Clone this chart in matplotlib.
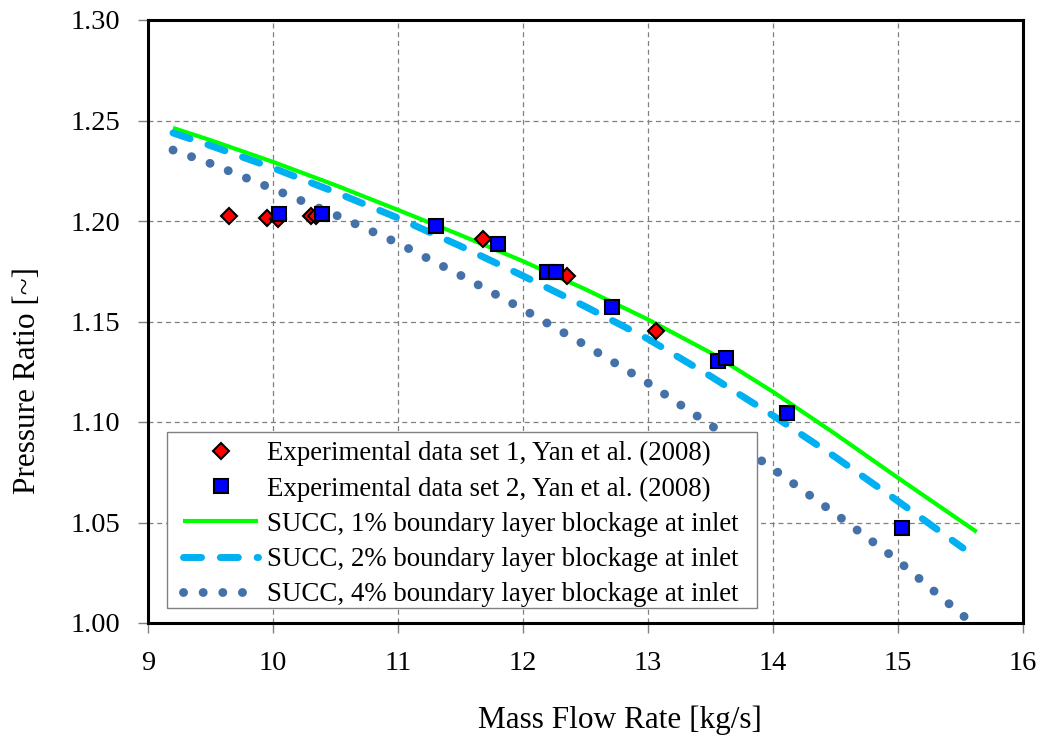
import matplotlib
matplotlib.use("Agg")
import matplotlib.pyplot as plt
from matplotlib.patches import Rectangle

# Experimental data
set1_x = [9.65, 9.95, 10.04, 10.30, 10.34, 11.68, 12.35, 13.06]
set1_y = [1.2025, 1.2015, 1.2010, 1.2025, 1.2025, 1.1912, 1.1726, 1.1453]
set2_x = [10.05, 10.39, 11.30, 11.80, 12.19, 12.26, 12.71, 13.56, 13.62, 14.11, 15.03]
set2_y = [1.2035, 1.2035, 1.1975, 1.1886, 1.1746, 1.1746, 1.1572, 1.1303, 1.1318, 1.1045, 1.0473]

# SUCC predictions
succ1_x = [9.2, 9.5, 10.0, 10.5, 11.0, 11.5, 12.0, 12.5, 13.0, 13.5, 14.0, 14.5, 15.0, 15.63]
succ1_y = [1.2463, 1.2402, 1.2294, 1.2178, 1.2055, 1.1930, 1.1800, 1.1660, 1.1510,
           1.1345, 1.1150, 1.0940, 1.0722, 1.0453]
succ2_x = [9.2, 9.5, 10.0, 10.5, 11.0, 11.5, 12.0, 12.5, 13.0, 13.5, 14.0, 14.5, 15.0, 15.52]
succ2_y = [1.2438, 1.2375, 1.2264, 1.2143, 1.2015, 1.1875, 1.1727, 1.1574, 1.1413,
           1.1228, 1.1032, 1.0825, 1.0606, 1.0373]
succ4_x = [9.2, 9.5, 10.0, 10.5, 11.0, 11.5, 12.0, 12.5, 13.0, 13.5, 14.0, 14.5, 15.0, 15.6]
succ4_y = [1.2353, 1.2286, 1.2160, 1.2030, 1.1890, 1.1730, 1.1561, 1.1382, 1.1194,
           1.0985, 1.0767, 1.0543, 1.0310, 0.9995]

labels = ["Experimental data set 1, Yan et al. (2008)",
          "Experimental data set 2, Yan et al. (2008)",
          "SUCC, 1% boundary layer blockage at inlet",
          "SUCC, 2% boundary layer blockage at inlet",
          "SUCC, 4% boundary layer blockage at inlet"]
xticks = [9, 10, 11, 12, 13, 14, 15, 16]
yticks = [1.00, 1.05, 1.10, 1.15, 1.20, 1.25, 1.30]

plt.rcParams['font.family'] = ['Liberation Serif', 'DejaVu Serif']

fig = plt.figure(figsize=(10.49, 7.43), dpi=100)
ax = fig.add_axes([148/1049, 1-623/743, (1023-148)/1049, (623-20)/743])

l1, = ax.plot(succ1_x, succ1_y, color='#00ff00', lw=3.0, solid_capstyle='butt', zorder=3)
l2, = ax.plot(succ2_x, succ2_y, color='#00b0f0', lw=5.0, linestyle=(0, (2.6, 2.7)),
              dash_capstyle='round', zorder=3)
l4, = ax.plot(succ4_x, succ4_y, color='#4472a8', lw=6.4, linestyle=(0, (0.01, 2.2)),
              dash_capstyle='round', zorder=3)
s1, = ax.plot(set1_x, set1_y, linestyle='none', marker='D', markersize=8,
              markerfacecolor='#ff0000', markeredgecolor='black', markeredgewidth=1.5, zorder=4)
s2, = ax.plot(set2_x, set2_y, linestyle='none', marker='s', markersize=10.5,
              markerfacecolor='#0000ff', markeredgecolor='black', markeredgewidth=1.5, zorder=4)

ax.set_xlim(9, 16)
ax.set_ylim(1.0, 1.30)
ax.set_xticks(xticks)
ax.set_xticklabels([str(v) for v in xticks])
ax.set_yticks(yticks)
ax.set_yticklabels([f"{v:.2f}" for v in yticks])
ax.grid(True, color='#808080', linestyle=(0, (4, 3)), linewidth=0.9)
ax.set_axisbelow(True)
for sp in ax.spines.values():
    sp.set_linewidth(2.2)
    sp.set_color('black')
ax.tick_params(axis='both', direction='out', length=7, width=1, color='#808080',
               labelsize=20.5, pad=13)

ax.set_xlabel("Mass Flow Rate [kg/s]", fontsize=22.5)
ax.set_ylabel("Pressure Ratio [~]", fontsize=22.5)
ax.xaxis.label.set_va('center')
ax.yaxis.label.set_va('center')
ax.xaxis.set_label_coords((620-148)/875, -(720-623)/603)
ax.yaxis.set_label_coords(-(148-28)/875, (623-380)/603)

# Legend frame drawn separately
frame = Rectangle(((167-148)/875, (623-608)/603), (757-167)/875, (608-432)/603,
                  transform=ax.transAxes, facecolor='white', edgecolor='#808080',
                  linewidth=1.0, zorder=5)
ax.add_patch(frame)

leg = ax.legend([s1, s2, l1, l2, l4], labels, loc='upper left',
                bbox_to_anchor=((183-148)/875, (623-441)/603),
                fontsize=19.4, frameon=False,
                handlelength=2.8, handletextpad=0.33, borderpad=0.0, labelspacing=0.38,
                borderaxespad=0)
leg.set_zorder(6)

fig.savefig("out.png", dpi=100)
